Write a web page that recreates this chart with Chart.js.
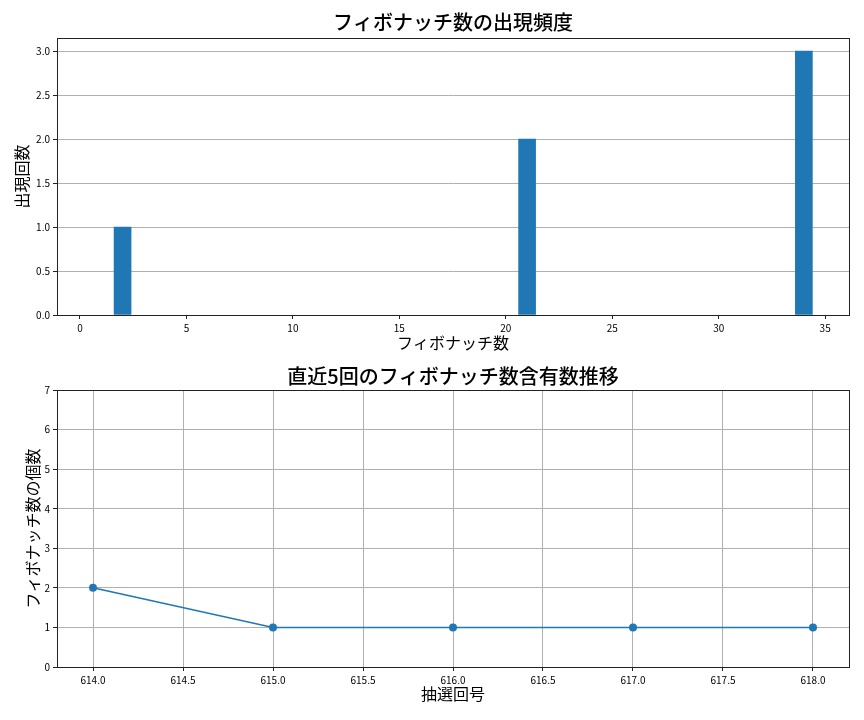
<!DOCTYPE html>
<html>
<head>
<meta charset="utf-8">
<script src="https://cdn.jsdelivr.net/npm/chart.js@4.4.1/dist/chart.umd.min.js"></script>
<style>
  html, body { margin: 0; padding: 0; background: #fff; }
  canvas { display: block; }
</style>
</head>
<body>
<canvas id="freqChart" width="864" height="360"></canvas>
<canvas id="trendChart" width="864" height="360"></canvas>
<script>
// フィボナッチ数の出現頻度
const fibNumbers = [2, 21, 34];
const fibCounts = [1, 2, 3];
const freqXTicks = [0, 5, 10, 15, 20, 25, 30, 35];
const freqYTicks = [0, 0.5, 1.0, 1.5, 2.0, 2.5, 3.0];

// 直近5回の推移
const drawNumbers = [614, 615, 616, 617, 618];
const fibContained = [2, 1, 1, 1, 1];
const trendXTicks = [614.0, 614.5, 615.0, 615.5, 616.0, 616.5, 617.0, 617.5, 618.0];
const trendYTicks = [0, 1, 2, 3, 4, 5, 6, 7];

const FONT = "'Noto Sans CJK JP', 'Noto Sans', sans-serif";
const BLUE = "#1f77b4";
const GRID = "#b0b0b0";

Chart.defaults.font.family = FONT;
Chart.defaults.color = "#000";

// matplotlibっぽく四辺の枠を描く
const boxPlugin = {
  id: "box",
  afterDraw(chart) {
    const a = chart.chartArea;
    const ctx = chart.ctx;
    ctx.save();
    ctx.strokeStyle = "#222";
    ctx.lineWidth = 1;
    ctx.strokeRect(a.left + 0.5, a.top + 0.5, a.right - a.left, a.bottom - a.top);
    ctx.restore();
  }
};

function fixedTicks(list) {
  return (scale) => { scale.ticks = list.map(v => ({ value: v })); };
}

new Chart(document.getElementById("freqChart"), {
  type: "bar",
  data: {
    datasets: [{
      data: fibNumbers.map((n, i) => ({ x: n, y: fibCounts[i] })),
      backgroundColor: BLUE,
      barThickness: 17
    }]
  },
  options: {
    responsive: false,
    animation: false,
    layout: { padding: { left: 0, right: 15, top: 0, bottom: 0 } },
    plugins: {
      legend: { display: false },
      tooltip: { enabled: false },
      title: {
        display: true,
        fullSize: false,
        text: "フィボナッチ数の出現頻度",
        font: { size: 20, weight: "500", family: FONT },
        color: "#000",
        padding: { top: 10, bottom: 4 }
      }
    },
    scales: {
      x: {
        type: "linear",
        offset: false,
        min: -1.08,
        max: 36.12,
        afterBuildTicks: fixedTicks(freqXTicks),
        afterFit(s) { s.height = 45; },
        grid: { display: true, drawOnChartArea: false, drawTicks: true, tickLength: 4, color: "#222", offset: false },
        border: { display: true, color: "#222" },
        ticks: { font: { size: 10 }, padding: 3, maxRotation: 0, callback: v => String(v) },
        title: { display: true, text: "フィボナッチ数", font: { size: 16 }, padding: { top: 0, bottom: 7 } }
      },
      y: {
        min: 0,
        max: 3.15,
        afterBuildTicks: fixedTicks(freqYTicks),
        afterFit(s) { s.width = 57; },
        grid: { color: GRID, lineWidth: 1, drawTicks: true, tickLength: 4, tickColor: "#222" },
        border: { display: true, color: "#222" },
        ticks: { font: { size: 10 }, padding: 3, callback: v => v.toFixed(1) },
        title: { display: true, text: "出現回数", font: { size: 16 }, padding: { top: 12, bottom: 0 } }
      }
    }
  },
  plugins: [boxPlugin]
});

new Chart(document.getElementById("trendChart"), {
  type: "line",
  data: {
    datasets: [{
      data: drawNumbers.map((n, i) => ({ x: n, y: fibContained[i] })),
      borderColor: BLUE,
      backgroundColor: BLUE,
      borderWidth: 1.5,
      pointRadius: 4,
      pointBorderWidth: 0,
      fill: false,
      tension: 0
    }]
  },
  options: {
    responsive: false,
    animation: false,
    layout: { padding: { left: 0, right: 15, top: 0, bottom: 0 } },
    plugins: {
      legend: { display: false },
      tooltip: { enabled: false },
      title: {
        display: true,
        fullSize: false,
        text: "直近5回のフィボナッチ数含有数推移",
        font: { size: 20, weight: "500", family: FONT },
        color: "#000",
        padding: { top: 4, bottom: 2 }
      }
    },
    scales: {
      x: {
        type: "linear",
        min: 613.8,
        max: 618.2,
        afterBuildTicks: fixedTicks(trendXTicks),
        afterFit(s) { s.height = 53; },
        grid: { color: GRID, lineWidth: 1, drawTicks: true, tickLength: 4, tickColor: "#222" },
        border: { display: true, color: "#222" },
        ticks: { font: { size: 10 }, padding: 3, maxRotation: 0, callback: v => v.toFixed(1) },
        title: { display: true, text: "抽選回号", font: { size: 16 }, padding: { top: 0, bottom: 16 } }
      },
      y: {
        min: 0,
        max: 7,
        afterBuildTicks: fixedTicks(trendYTicks),
        afterFit(s) { s.width = 57; },
        grid: { color: GRID, lineWidth: 1, drawTicks: true, tickLength: 4, tickColor: "#222" },
        border: { display: true, color: "#222" },
        ticks: { font: { size: 10 }, padding: 3, callback: v => String(v) },
        title: { display: true, text: "フィボナッチ数の個数", font: { size: 16 }, padding: { top: 23, bottom: 0 } }
      }
    }
  },
  plugins: [boxPlugin]
});
</script>
</body>
</html>
